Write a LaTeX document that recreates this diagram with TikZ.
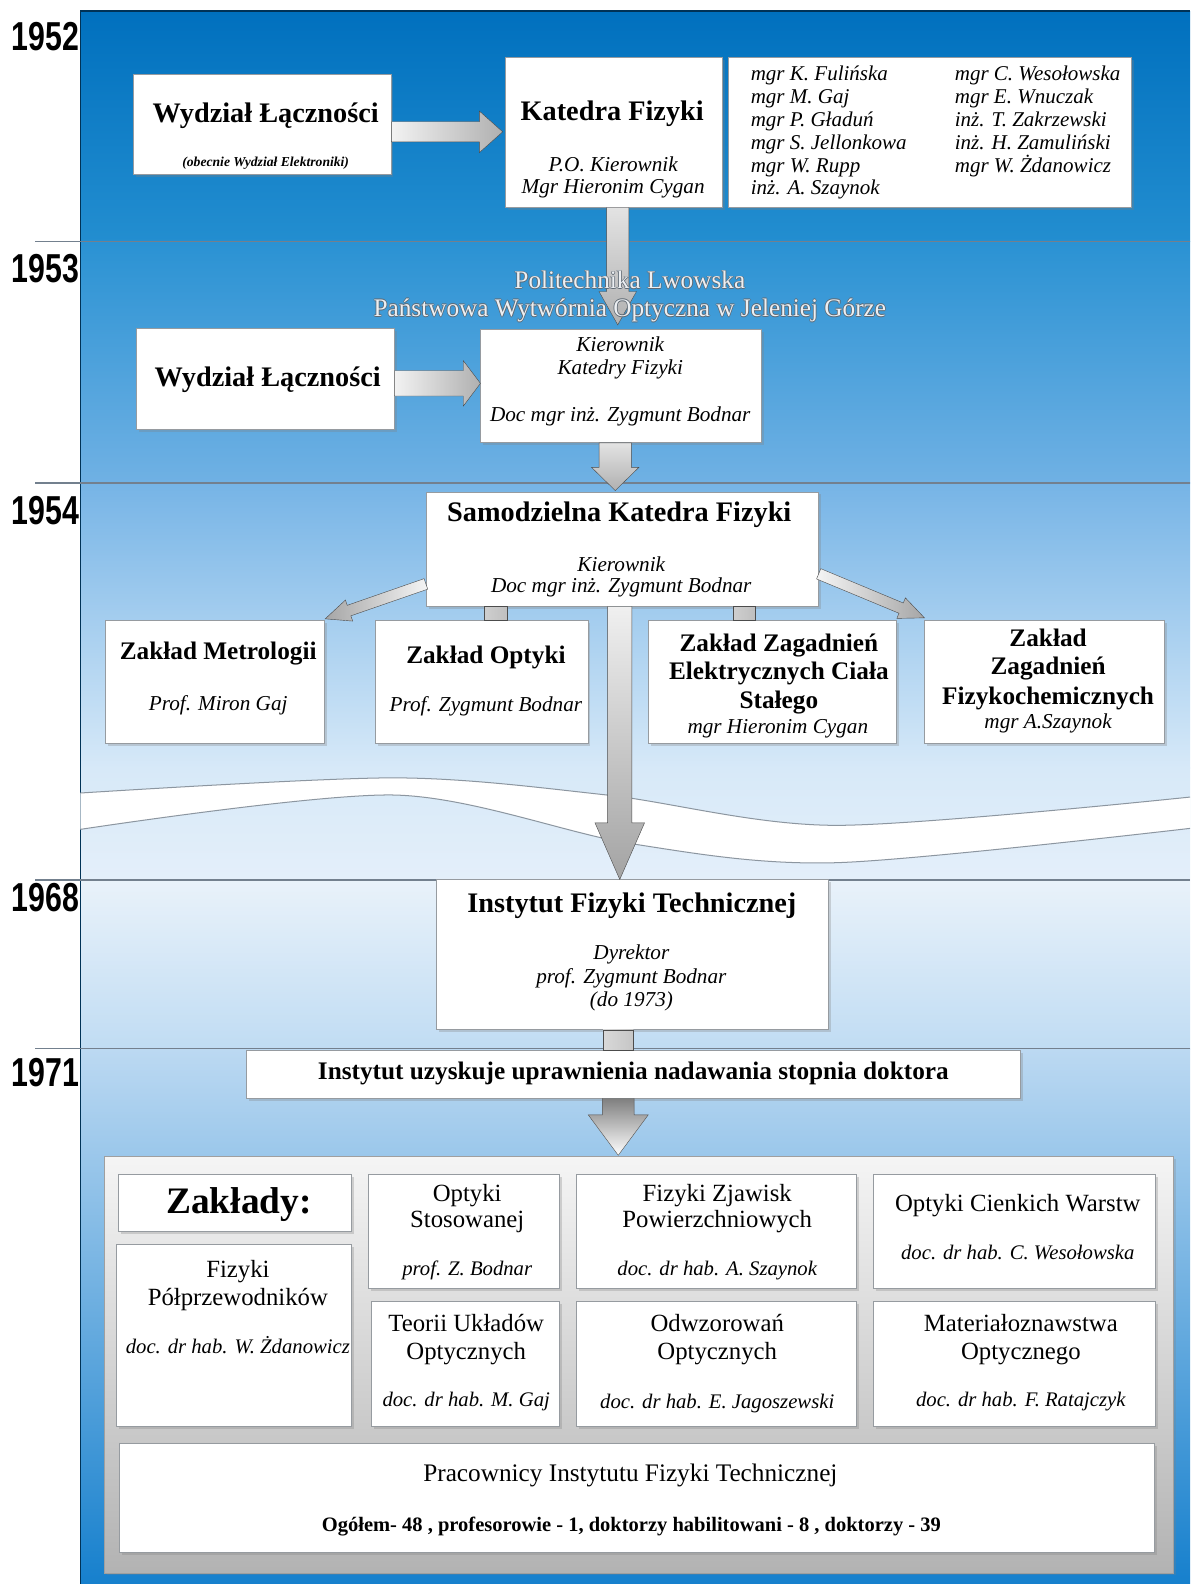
\documentclass[tikz,border=0pt]{standalone}
\usepackage{graphicx}
\usepackage{fontspec}
\setmainfont{Liberation Serif}
\newfontfamily\yearfont{Liberation Sans}
\usetikzlibrary{calc,fit,shadows}

% background colours of the time bands
\definecolor{bgA}{RGB}{0,112,190}
\definecolor{bgB}{RGB}{35,142,208}
\definecolor{bgC}{RGB}{42,146,211}
\definecolor{bgD}{RGB}{112,177,228}
\definecolor{bgE}{RGB}{118,180,230}
\definecolor{bgF}{RGB}{215,233,248}
\definecolor{bgG}{RGB}{228,239,250}
\definecolor{bgH}{RGB}{233,242,250}
\definecolor{bgI}{RGB}{192,220,243}
\definecolor{bgJ}{RGB}{188,217,242}
\definecolor{bgK}{RGB}{22,128,205}
\definecolor{tline}{RGB}{115,128,142}
\definecolor{boxedge}{RGB}{150,155,160}
\definecolor{embfill}{RGB}{236,239,242}
\definecolor{embedge}{RGB}{95,105,115}
\definecolor{wave}{RGB}{140,150,160}

\newcommand\embossed[1]{%
  \makebox[0pt]{\hspace{1.6pt}\textcolor{embedge}{#1}}%
  \makebox[0pt]{\hspace{-1.6pt}\textcolor{embedge}{#1}}%
  \makebox[0pt]{\raisebox{0.8pt}{\textcolor{embedge}{#1}}}%
  \makebox[0pt]{\raisebox{-0.8pt}{\textcolor{embedge}{#1}}}%
  \makebox[0pt]{\textcolor{embfill}{#1}}}

% block arrow: [style]{start}{tip}{shaft half width}{head half width}{head length}
\newcommand\blockarrow[6][]{%
  \coordinate (ahb) at ($(#3)!#6!(#2)$);
  \shade[#1] ($(#2)!#4!90:(#3)$) -- ($(ahb)!#4!90:(#3)$) -- ($(ahb)!#5!90:(#3)$) -- (#3)
    -- ($(ahb)!#5!-90:(#3)$) -- ($(ahb)!#4!-90:(#3)$) -- ($(#2)!#4!-90:(#3)$) -- cycle;}

\tikzset{
  box/.style={draw=boxedge, fill=white, line width=0.8pt, inner sep=0pt,
    drop shadow={shadow xshift=2.5pt, shadow yshift=-2.5pt, opacity=0.3}},
  txt/.style={anchor=base, inner sep=0pt, text=black},
  ttl/.style={txt, font=\fontsize{28}{30}\selectfont\bfseries},
  subt/.style={txt, font=\fontsize{13.5}{15}\selectfont\bfseries\itshape},
  itl/.style={txt, font=\fontsize{21}{23}\selectfont\itshape},
  lst/.style={txt, anchor=base west, font=\fontsize{20.8}{23}\selectfont\itshape},
  zt/.style={txt, font=\fontsize{25}{27}\selectfont\bfseries},
  emb/.style={txt, font=\fontsize{25}{27}\selectfont},
  rt/.style={txt, font=\fontsize{24.5}{26}\selectfont},
  bit/.style={txt, font=\fontsize{20.5}{22}\selectfont\itshape},
  yr/.style={anchor=center, inner sep=0pt, text=black, font=\yearfont\fontsize{40}{42}\selectfont\bfseries},
  tl/.style={draw=tline, line width=1.4pt},
  harrow/.style={left color=gray!10, right color=gray!62, draw=gray!60!black, line width=0.4pt},
  varrow/.style={top color=gray!22, bottom color=gray!62, draw=gray!60!black, line width=0.4pt},
  darrow/.style={fill=gray!52, draw=gray!65!black, line width=0.4pt},
  bar/.style={left color=gray!38, right color=gray!50, draw=gray!60!black, line width=0.3pt},
}

\begin{document}
\begin{tikzpicture}[x=1pt,y=-1pt]
\useasboundingbox (0,0) rectangle (1178,1568);

% ---- background panel, one gradient band per period
\shade[top color=bgA, bottom color=bgB] (79.5,11) rectangle (1178,239.5);
\shade[top color=bgC, bottom color=bgD] (79.5,239) rectangle (1178,478.5);
\shade[top color=bgE, bottom color=bgF] (79.5,478) rectangle (1178,760.5);
\shade[top color=bgF, bottom color=bgG] (79.5,760) rectangle (1178,871.5);
\shade[top color=bgH, bottom color=bgI] (79.5,871) rectangle (1178,1038.5);
\shade[top color=bgJ, bottom color=bgK] (79.5,1038) rectangle (1178,1568);
\draw[draw=black!55!bgA, line width=1.5pt] (79.5,1568) -- (79.5,11) -- (1178,11);

% ---- break in the time axis
\fill[white] plot[smooth] coordinates {(79.5,785) (391,770) (601,787) (827,817) (1178,789)}
  -- plot[smooth] coordinates {(1178,820) (827,854) (624,835) (391,787) (79.5,821)} -- cycle;
\draw[wave, line width=1pt] plot[smooth] coordinates {(79.5,785) (391,770) (601,787) (827,817) (1178,789)};
\draw[wave, line width=1pt] plot[smooth] coordinates {(79.5,821) (391,787) (624,835) (827,854) (1178,820)};

% ---- period dividers and years
\draw[tl] (35,239) -- (1178,239);
\draw[tl] (35,478) -- (1178,478);
\draw[tl] (35,871) -- (1178,871);
\draw[tl] (35,1038) -- (1178,1038);
\node[yr] (y1952) at (45,36) {\scalebox{0.75}[1]{1952}};
\node[yr] (y1953) at (45,266) {\scalebox{0.75}[1]{1953}};
\node[yr] (y1954) at (45,505) {\scalebox{0.75}[1]{1954}};
\node[yr] (y1968) at (45,889) {\scalebox{0.75}[1]{1968}};
\node[yr] (y1971) at (45,1062) {\scalebox{0.75}[1]{1971}};

% ---- 1952
\node[box, fit={(132,74)(387,173)}] (wlA) {};
\node[ttl] (wlAt) at (263,121) {Wydział Łączności};
\node[subt] (wlAs) at (263,165) {(obecnie Wydział Elektroniki)};

\node[box, fit={(500,57)(715,205)}] (kf) {};
\node[ttl] (kft) at (606,119) {Katedra Fizyki};
\node[itl] (kf1) at (607,170) {P.O. Kierownik};
\node[itl] (kf2) at (607,192) {Mgr Hieronim Cygan};

\node[box, fit={(721,57)(1120,205)}] (staff) {};
\foreach \n [count=\i] in {mgr K. Fulińska, mgr M. Gaj, mgr P. Gładuń, mgr S. Jellonkowa, mgr W. Rupp, inż. A. Szaynok}
  \node[lst] (sa\i) at (743,{80+22.6*(\i-1)}) {\n};
\foreach \n [count=\i] in {mgr C. Wesołowska, mgr E. Wnuczak, inż. T. Zakrzewski, inż. H. Zamuliński, mgr W. Żdanowicz}
  \node[lst] (sb\i) at (945,{80+22.6*(\i-1)}) {\n};

% ---- 1953
\node[box, fit={(135,325)(390,425)}] (wlB) {};
\node[ttl] (wlBt) at (265,383) {Wydział Łączności};

\node[box, fit={(476,326)(754,438)}] (ke) {};
\node[itl] (ke1) at (614,348) {Kierownik};
\node[itl] (ke2) at (614,371) {Katedry Fizyki};
\node[itl] (ke3) at (614,417.5) {Doc mgr inż. Zygmunt Bodnar};

% ---- 1954
\node[box, fit={(422,487)(810,600)}] (skf) {};
\node[ttl] (skft) at (613,516) {Samodzielna Katedra Fizyki};
\node[itl] (skf1) at (615,566) {Kierownik};
\node[itl] (skf2) at (615,587) {Doc mgr inż. Zygmunt Bodnar};

\node[box, fit={(104,614)(321,736)}] (zm) {};
\node[zt] (zm1) at (216,653) {Zakład Metrologii};
\node[itl] (zm2) at (216,703) {Prof. Miron Gaj};

\node[box, fit={(372,614)(582,736)}] (zo) {};
\node[zt] (zo1) at (481,656.5) {Zakład Optyki};
\node[itl] (zo2) at (481,704.5) {Prof. Zygmunt Bodnar};

\node[box, fit={(642,614)(887,736)}] (ze) {};
\node[zt] (ze1) at (771,645) {Zakład Zagadnień};
\node[zt] (ze2) at (771,673) {Elektrycznych Ciała};
\node[zt] (ze3) at (771,701) {Stałego};
\node[itl] (ze4) at (770,726) {mgr Hieronim Cygan};

\node[box, fit={(915,614)(1153,736)}] (zf) {};
\node[zt] (zf1) at (1037.5,640) {Zakład};
\node[zt] (zf2) at (1037.5,668) {Zagadnień};
\node[zt] (zf3) at (1037.5,697) {Fizykochemicznych};
\node[itl] (zf4) at (1037.5,721) {mgr A.Szaynok};

% ---- 1968
\node[box, fit={(432,871)(820,1019)}] (ift) {};
\node[ttl] (iftt) at (625.5,903.5) {Instytut Fizyki Technicznej};
\node[itl] (ift1) at (625,950) {Dyrektor};
\node[itl] (ift2) at (625,974) {prof. Zygmunt Bodnar};
\node[itl] (ift3) at (625,996.5) {(do 1973)};

% ---- 1971
\node[box, fit={(244,1040)(1010,1087)}] (upr) {};
\node[zt] (uprt) at (627,1069) {Instytut uzyskuje uprawnienia nadawania stopnia doktora};

\node[draw=gray!75, line width=0.8pt, top color=white!96!black, bottom color=black!30, inner sep=0pt,
      drop shadow={shadow xshift=2pt, shadow yshift=-2pt, opacity=0.25},
      fit={(103.7,1145)(1162,1557)}] (zaklady) {};

\node[box, fit={(117.7,1162.5)(347.5,1218.6)}] (zk) {};
\node[txt, font=\fontsize{37}{40}\selectfont\bfseries] (zkt) at (236.5,1201) {Zakłady:};

\node[box, fit={(115.6,1231.8)(347.5,1412)}] (fp) {};
\node[rt] (fp1) at (235.5,1265) {Fizyki};
\node[rt] (fp2) at (235.5,1292) {Półprzewodników};
\node[bit] (fp3) at (235.5,1340) {doc. dr hab. W. Żdanowicz};

\node[box, fit={(365,1162.5)(554,1275)}] (os) {};
\node[rt] (os1) at (462.5,1189) {Optyki};
\node[rt] (os2) at (462.5,1215) {Stosowanej};
\node[bit] (os3) at (462.5,1263) {prof. Z. Bodnar};

\node[box, fit={(368,1288)(554,1412)}] (tu) {};
\node[rt] (tu1) at (461.5,1318) {Teorii Układów};
\node[rt] (tu2) at (461.5,1346) {Optycznych};
\node[bit] (tu3) at (461.5,1392.5) {doc. dr hab. M. Gaj};

\node[box, fit={(571,1162.5)(848,1275)}] (fz) {};
\node[rt] (fz1) at (710,1189) {Fizyki Zjawisk};
\node[rt] (fz2) at (710,1215) {Powierzchniowych};
\node[bit] (fz3) at (710,1263) {doc. dr hab. A. Szaynok};

\node[box, fit={(571,1288)(848,1412)}] (oo) {};
\node[rt] (oo1) at (710,1318) {Odwzorowań};
\node[rt] (oo2) at (710,1346) {Optycznych};
\node[bit] (oo3) at (710,1394) {doc. dr hab. E. Jagoszewski};

\node[box, fit={(865,1162.5)(1144,1275)}] (oc) {};
\node[rt] (oc1) at (1007.5,1199.5) {Optyki Cienkich Warstw};
\node[bit] (oc2) at (1007.5,1247) {doc. dr hab. C. Wesołowska};

\node[box, fit={(865,1288)(1144,1412)}] (mo) {};
\node[rt] (mo1) at (1010.5,1318) {Materiałoznawstwa};
\node[rt] (mo2) at (1010.5,1346) {Optycznego};
\node[bit] (mo3) at (1010.5,1392.5) {doc. dr hab. F. Ratajczyk};

\node[box, fit={(118,1429)(1143,1537)}] (pr) {};
\node[txt, font=\fontsize{25}{27}\selectfont] (pr1) at (624,1466.7) {Pracownicy Instytutu Fizyki Technicznej};
\node[txt, font=\fontsize{20.3}{22}\selectfont\bfseries] (pr2) at (625,1516)
  {Ogółem- 48 , profesorowie - 1, doktorzy habilitowani - 8 , doktorzy - 39};

% ---- connectors
\coordinate (s1) at ($(wlA.east)+(0,7)$);
\coordinate (t1) at ($(kf.west |- s1)+(-2,0)$);
\blockarrow[harrow]{s1}{t1}{10pt}{20.5pt}{23pt}

\coordinate (s2) at ($(kf.south)+(4,0)$);
\coordinate (t2) at ($(s2 |- ke.north)+(0,-4)$);
\blockarrow[varrow]{s2}{t2}{11pt}{18.5pt}{33pt}

\coordinate (s3) at ($(wlB.east)+(0,4.5)$);
\coordinate (t3) at (ke.west |- s3);
\blockarrow[harrow]{s3}{t3}{12.5pt}{22.5pt}{17pt}

\coordinate (s4) at ($(ke.south)+(-6,0)$);
\coordinate (t4) at ($(s4 |- skf.north)+(0,-1)$);
\blockarrow[varrow]{s4}{t4}{16pt}{23.5pt}{23pt}

\coordinate (s5) at ($(skf.west)+(0,34.5)$);
\coordinate (t5) at ($(zm.north east)+(0.5,-1)$);
\blockarrow[left color=gray!70, right color=gray!8, draw=gray!60!black, line width=0.4pt]{s5}{t5}{5.5pt}{11pt}{25pt}

\coordinate (s6) at ($(skf.east)+(0,24.5)$);
\coordinate (t6) at ($(zf.north west)+(0.5,-2)$);
\blockarrow[left color=gray!8, right color=gray!70, draw=gray!60!black, line width=0.4pt]{s6}{t6}{5.5pt}{11pt}{25pt}

\coordinate (b1) at ($(zo.north)+(13.5,0)$);
\shade[bar] ($(b1 |- skf.south)+(-11.5,0)$) rectangle ($(b1)+(11.5,0)$);
\coordinate (b2) at ($(ze.north)+(-28,0)$);
\shade[bar] ($(b2 |- skf.south)+(-11,0)$) rectangle ($(b2)+(11,0)$);

\coordinate (s7) at ($(skf.south)+(-2.5,0)$);
\coordinate (t7) at (s7 |- ift.north);
\blockarrow[top color=gray!12, bottom color=gray!72, draw=gray!60!black, line width=0.4pt]{s7}{t7}{12pt}{24.5pt}{56pt}

\coordinate (b3) at ($(ift.south)+(-14,0)$);
\shade[left color=gray!30, right color=gray!45, draw=gray!60!black, line width=0.3pt]
  ($(b3)+(-15,0)$) rectangle ($(b3 |- upr.north)+(15,0)$);

\coordinate (s8) at ($(upr.south)+(-15,0)$);
\coordinate (t8) at ($(s8 |- zaklady.north)+(0,-1)$);
\blockarrow[darrow]{s8}{t8}{15.7pt}{29.7pt}{40pt}

% ---- 1953 affiliations
\node[emb] (pl1) at (623.5,286) {\embossed{Politechnika Lwowska}};
\node[emb] (pl2) at (623.5,313.5) {\embossed{Państwowa Wytwórnia Optyczna w Jeleniej Górze}};
\end{tikzpicture}
\end{document}
